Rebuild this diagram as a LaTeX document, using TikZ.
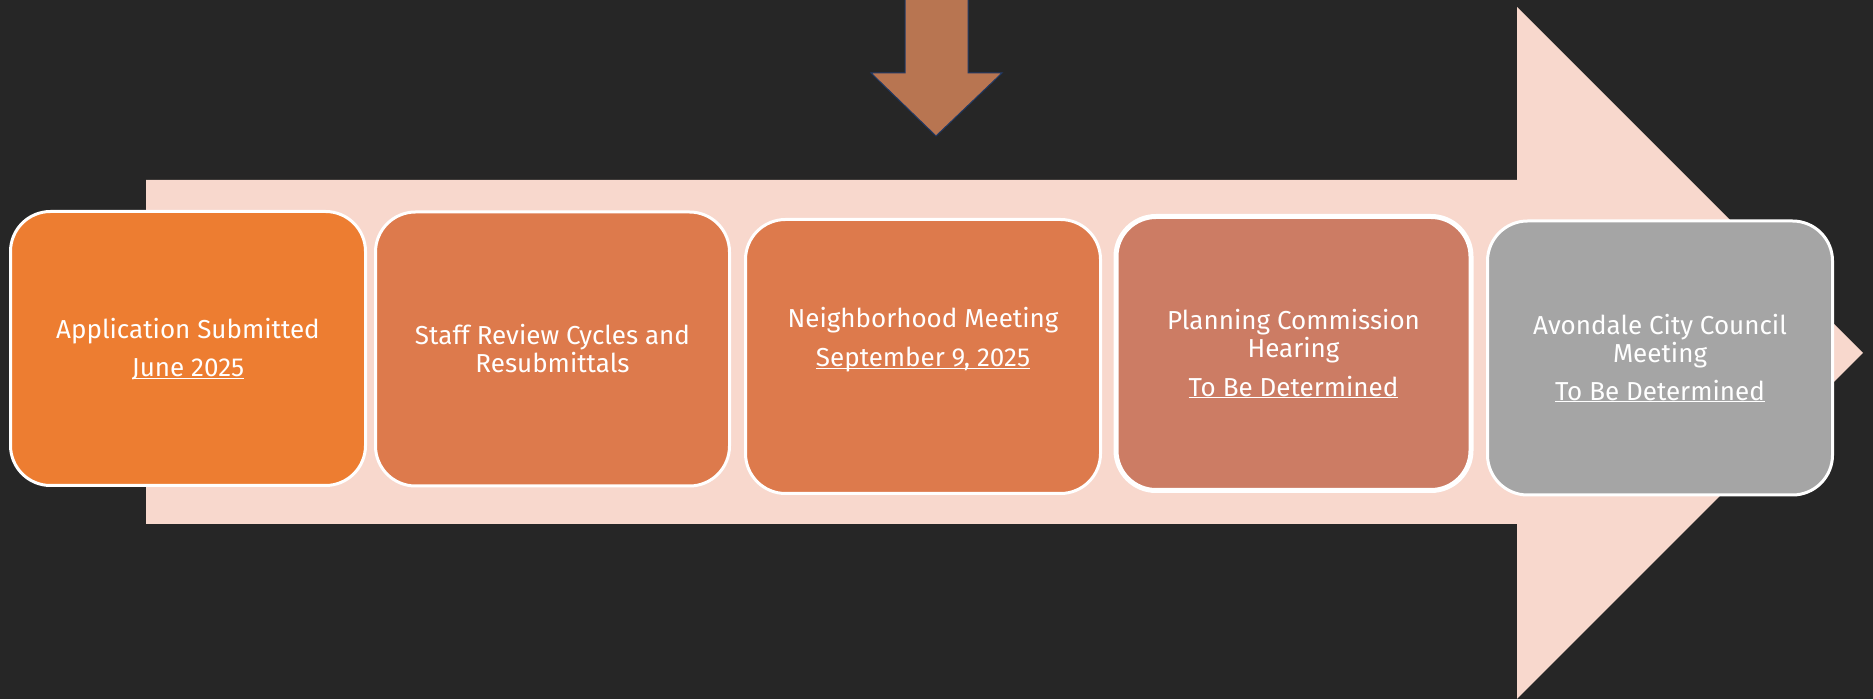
\documentclass[tikz,border=0pt]{standalone}
\usepackage{fontspec}
\setmainfont{Fira Sans}
\usetikzlibrary{positioning}

\definecolor{bgdark}{HTML}{262626}
\definecolor{arrowpink}{HTML}{F8D8CD}
\definecolor{stageorange}{HTML}{ED7D31}
\definecolor{stagerust}{HTML}{DD7A4C}
\definecolor{stageclay}{HTML}{CC7C64}
\definecolor{stagegrey}{HTML}{A5A5A5}
\definecolor{pointer}{HTML}{B87551}
\definecolor{pointeredge}{HTML}{1F3864}

% underlined date, the line stays at the baseline
\newcommand{\when}[1]{\underline{\smash{#1}}}

\tikzset{
  stage/.style={draw=white, line width=3pt, rounded corners=40pt,
    minimum width=355pt, minimum height=274pt, inner sep=0pt,
    align=center, text=white, font=\fontsize{26}{28}\selectfont},
}

\begin{document}
\begin{tikzpicture}[x=1pt,y=1pt]
\fill[bgdark] (0,0) rectangle (1873,699);
\useasboundingbox (0,0) rectangle (1873,699);
% big arrow behind the stages
\fill[arrowpink] (146,175) -- ++(0,344) -- ++(1371,0) -- ++(0,173) -- ++(-45:489.3) -- ++(-135:489.3) -- ++(0,175) -- cycle;
% pointer coming down from the top
\filldraw[fill=pointer, draw=pointeredge, line width=1pt] (905,705) -- ++(0,-79) -- ++(-34,0) -- ++(65,-63) -- ++(66,63) -- ++(-34,0) -- ++(0,79);

\node[stage, fill=stageorange] (applied) at (188,350.5) {Application Submitted\\[10pt]\when{June 2025}};
\node[stage, fill=stagerust, minimum width=354pt] (review) at (552.5,350) {Staff Review Cycles and\\Resubmittals};
\node[stage, fill=stagerust] (neighbors) at (923,342.5) {Neighborhood Meeting\\[11pt]\when{September 9, 2025}\\[11pt]\mbox{}};
\node[stage, fill=stageclay, line width=5pt] (commission) at (1293.5,345.5) {Planning Commission\\Hearing\\[11pt]\when{To Be Determined}};
\node[stage, fill=stagegrey, minimum width=345pt] (council) at (1660,341) {Avondale City Council\\Meeting\\[10pt]\when{To Be Determined}};
\end{tikzpicture}
\end{document}
